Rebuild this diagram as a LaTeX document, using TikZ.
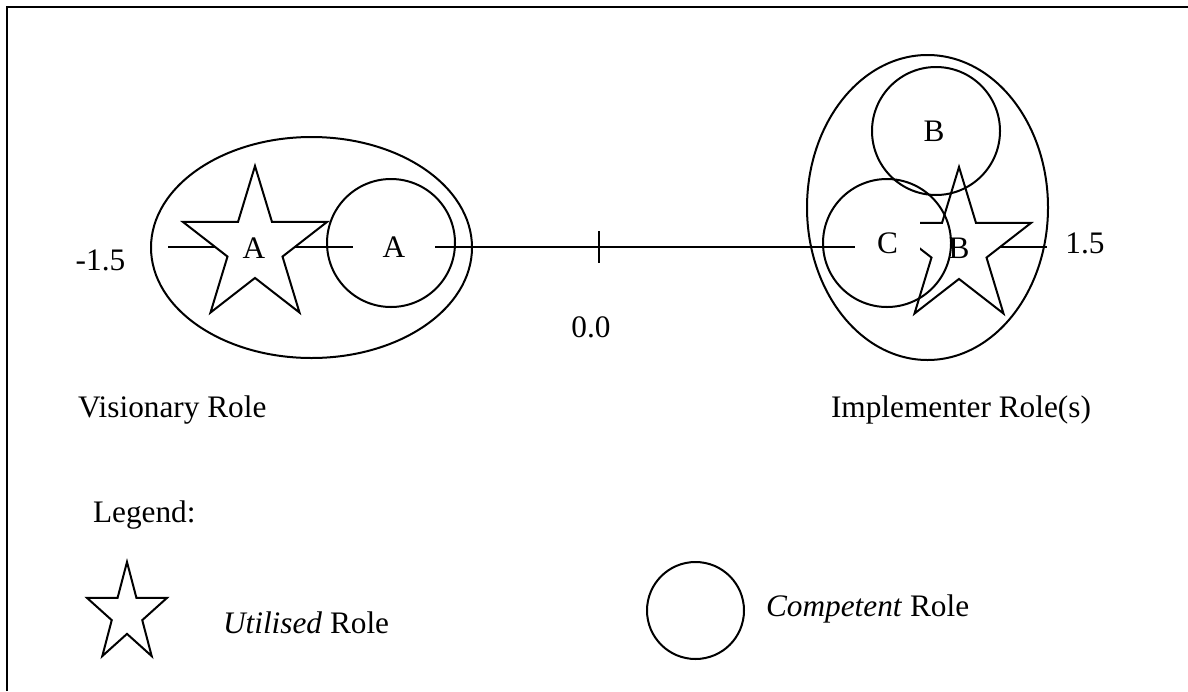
\documentclass[tikz,border=0pt]{standalone}
\usepackage{fontspec}
\setmainfont{Liberation Serif}
\usetikzlibrary{shapes.geometric}

\tikzset{
  pics/rolestar/.style={code={
    \draw[fill=white] (90:1) -- (126:.382) -- (162:1) -- (198:.382) -- (234:1)
      -- (270:.382) -- (306:1) -- (342:.382) -- (18:1) -- (54:.382) -- cycle;
  }}
}

\begin{document}
\begin{tikzpicture}[
    x=1pt, y=-1pt, line width=2pt,
    font=\fontsize{31.3}{36}\selectfont,
    lbl/.style={inner sep=0pt, anchor=base},
    gapbox/.style={lbl, fill=white, minimum height=60pt},
    rolecircle/.style={circle, draw, inner sep=0pt, minimum size=128pt},
    group/.style={ellipse, draw, inner sep=0pt}
]
\useasboundingbox (0,0) rectangle (1188,691);

% frame
\coordinate (fbot) at (7,691);
\coordinate (fcorner) at (7,7);
\coordinate (fright) at (1188,7);
\draw[line width=2.4pt] (fbot) -- (fcorner) -- (fright);

% role groups
\node[group, minimum width=321pt, minimum height=221pt] (visgroup) at (311.5,247.5) {};
\node[group, minimum width=241pt, minimum height=305pt] (impgroup) at (927.5,207.5) {};

% scale
\coordinate (axL) at (168,247);
\coordinate (axR) at (1047,247);
\coordinate (zero) at (599,247);
\draw (axL) -- (axR);
\draw (zero) ++(0,-16) -- ++(0,32);

% utilised roles
\pic[xscale=75.7, yscale=-81] at (255,247) {rolestar};
\pic[xscale=75.7, yscale=-81] at (959,248) {rolestar};

% competent roles
\node[rolecircle] (compA) at (391,243) {};
\node[rolecircle] (compC) at (887,243) {};
\node[rolecircle] (compB) at (936,131) {};

\node[lbl] (starAlbl) at (254,258) {A};
\node[gapbox, minimum width=82pt] (compAlbl) at (394,257) {A};
\node[gapbox, minimum width=65pt] (compClbl) at (887.5,253) {C};
\node[lbl] (starBlbl) at (959,258) {B};
\node[lbl] (compBlbl) at (934,141) {B};

\node[lbl] (lo) at (100.5,270) {-1.5};
\node[lbl] (mid) at (591,337) {0.0};
\node[lbl] (hi) at (1085,253) {1.5};

\node[lbl, anchor=base west] (vis) at (77,417) {Visionary Role};
\node[lbl, anchor=base west] (imp) at (830,417) {Implementer Role(s)};

% legend
\node[lbl, anchor=base west] (legend) at (92,522) {Legend:};
\pic[xscale=42, yscale=-52] at (127,614) {rolestar};
\node[lbl, anchor=base west] (utilised) at (222,633) {\textit{Utilised} Role};
\node[rolecircle, minimum size=97pt] (legcircle) at (695.5,610.5) {};
\node[lbl, anchor=base west] (competent) at (765,616) {\textit{Competent} Role};
\end{tikzpicture}
\end{document}
